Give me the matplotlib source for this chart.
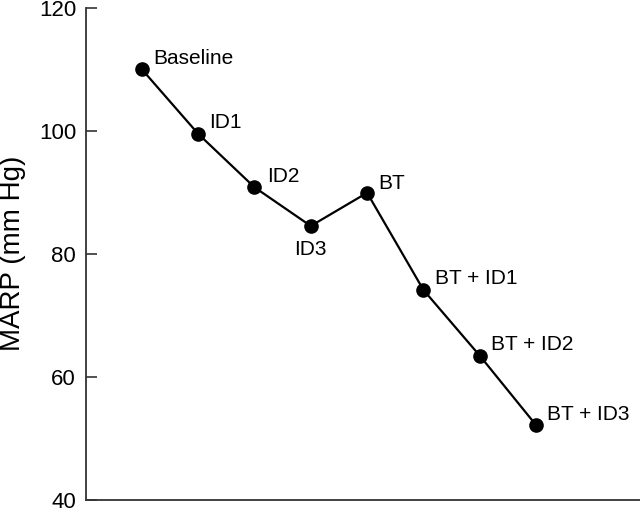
import numpy as np
import matplotlib
matplotlib.use("Agg")
import matplotlib.pyplot as plt

plt.rcParams['font.family'] = ['Liberation Sans', 'DejaVu Sans']

# stages and mean arterial pressure
stages = ['Baseline', 'ID1', 'ID2', 'ID3', 'BT', 'BT + ID1', 'BT + ID2', 'BT + ID3']
marp = [110.0, 99.5, 90.8, 84.5, 89.9, 74.1, 63.4, 52.1]
y_ticks = [40, 60, 80, 100, 120]

# label offsets in points (ID3 sits below its point)
offsets = [(8, 8), (8, 8), (9, 8), (0, -17), (8, 7), (8, 8), (8, 8), (8, 8)]

fig = plt.figure(figsize=(6.4, 5.08), dpi=100)
ax = fig.add_axes([0.134, 0.0167, 0.866, 0.968])

x = np.arange(len(stages))
ax.plot(x, marp, '-', color='black', lw=1.6, marker='o', ms=9.5,
        markerfacecolor='black', markeredgecolor='black', clip_on=False)

for xi, yi, lab, off in zip(x, marp, stages, offsets):
    ha = 'center' if off[0] == 0 else 'left'
    ax.annotate(lab, (xi, yi), xytext=off, textcoords='offset points',
                ha=ha, va='center', fontsize=15)

ax.set_xlim(-0.995, 8.845)
ax.set_ylim(40, 120)
ax.set_yticks(y_ticks)
ax.set_xticks([])
ax.tick_params(axis='y', direction='in', length=8, width=1.2, pad=7,
               labelsize=16, color='#333333')
ax.set_ylabel('MARP (mm Hg)', fontsize=20, labelpad=9)

for side in ['top', 'right']:
    ax.spines[side].set_visible(False)
for side in ['left', 'bottom']:
    ax.spines[side].set_linewidth(1.3)
    ax.spines[side].set_color('#333333')

fig.savefig('out.png', dpi=100)
